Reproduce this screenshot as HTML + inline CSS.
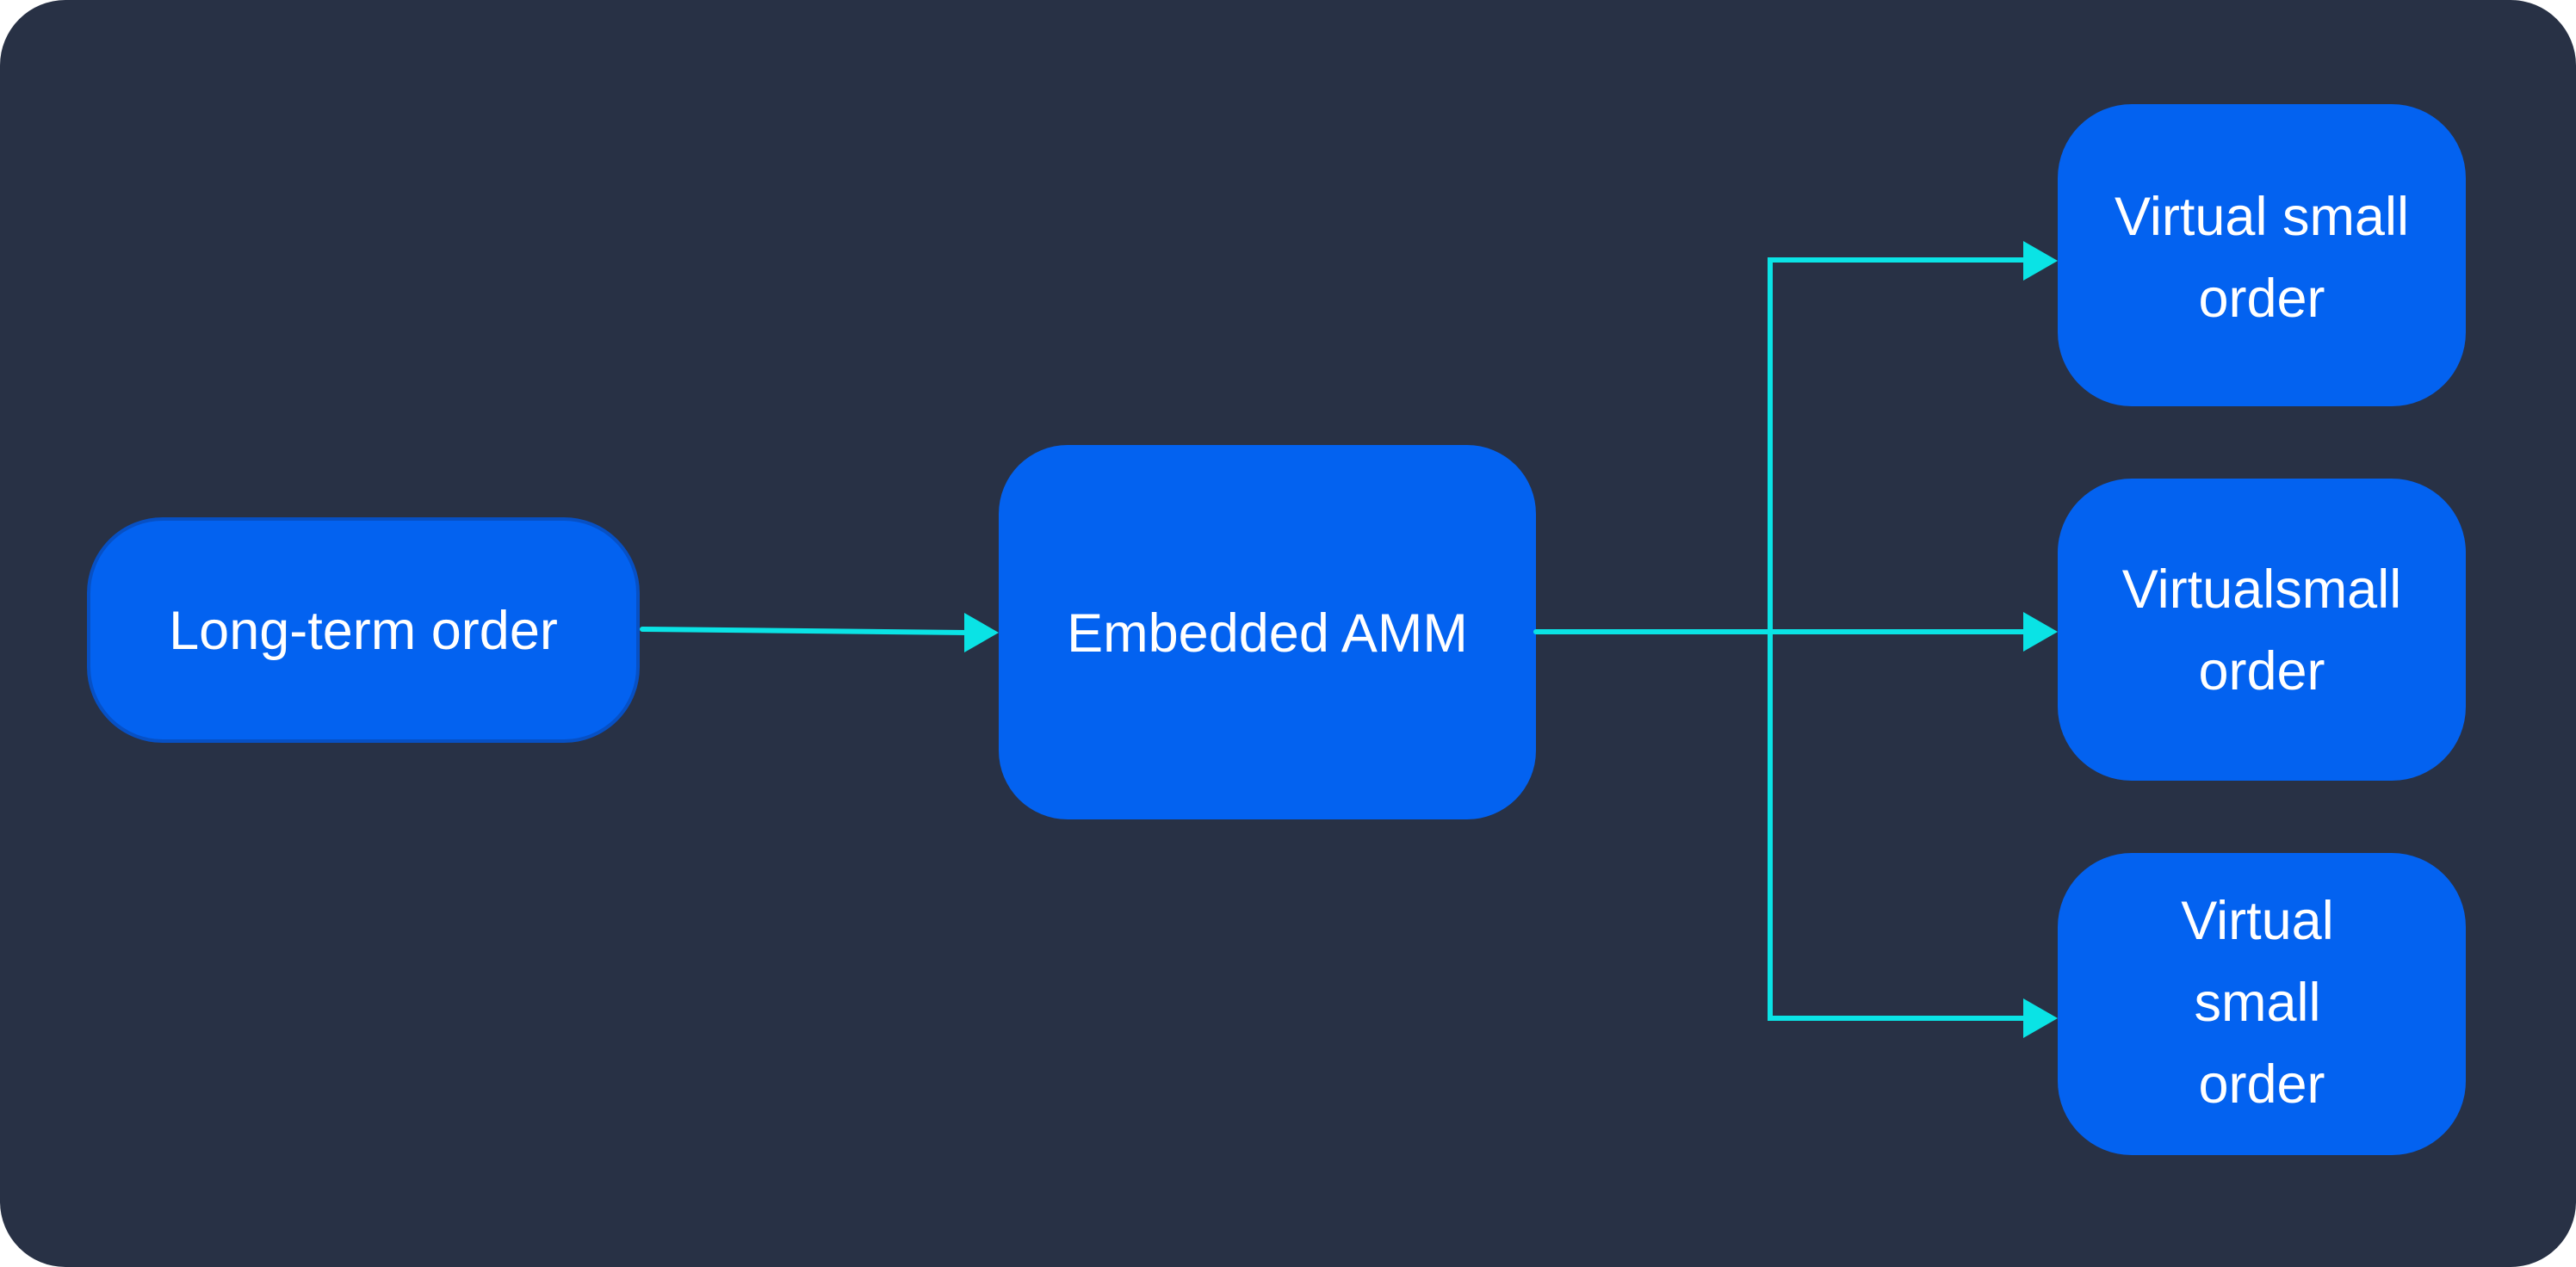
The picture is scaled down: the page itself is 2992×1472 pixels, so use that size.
<!DOCTYPE html>
<html><head><meta charset="utf-8"><style>
html,body{margin:0;padding:0;background:#fff;}
svg{display:block;}
text{font-family:"Liberation Sans",sans-serif;font-size:63px;fill:#fff;text-anchor:middle;}
</style></head><body>
<svg width="2992" height="1472" viewBox="0 0 2992 1472">
<rect x="0" y="0" width="2992" height="1472" rx="76" fill="#283145"/>
<rect x="103" y="603" width="638" height="258" rx="86" fill="#0362f0" stroke="#0750c4" stroke-width="4"/>
<text x="422" y="754">Long-term order</text>
<rect x="1160" y="517" width="624" height="435" rx="80" fill="#0362f0"/>
<text x="1472" y="757">Embedded AMM</text>
<rect x="2390" y="121" width="474" height="351" rx="86" fill="#0362f0"/>
<text x="2627" y="273">Virtual small</text>
<text x="2627" y="368">order</text>
<rect x="2390" y="556" width="474" height="351" rx="86" fill="#0362f0"/>
<text x="2627" y="706">Virtualsmall</text>
<text x="2627" y="801">order</text>
<rect x="2390" y="991" width="474" height="351" rx="86" fill="#0362f0"/>
<text x="2622" y="1091">Virtual</text>
<text x="2622" y="1186">small</text>
<text x="2627" y="1281">order</text>
<g stroke="#0ae3e5" stroke-width="6" fill="none" stroke-linecap="round">
<line x1="746" y1="731" x2="1125" y2="735"/>
<line x1="1784" y1="734" x2="2352" y2="734"/>
<polyline points="2352,302 2056,302 2056,1183 2352,1183"/>
</g>
<g fill="#0ae3e5">
<polygon points="1120,712 1160,735 1120,758"/>
<polygon points="2350,711 2390,734 2350,757"/>
<polygon points="2350,280 2390,303 2350,326"/>
<polygon points="2350,1160 2390,1183 2350,1206"/>
</g>
</svg>
</body></html>
